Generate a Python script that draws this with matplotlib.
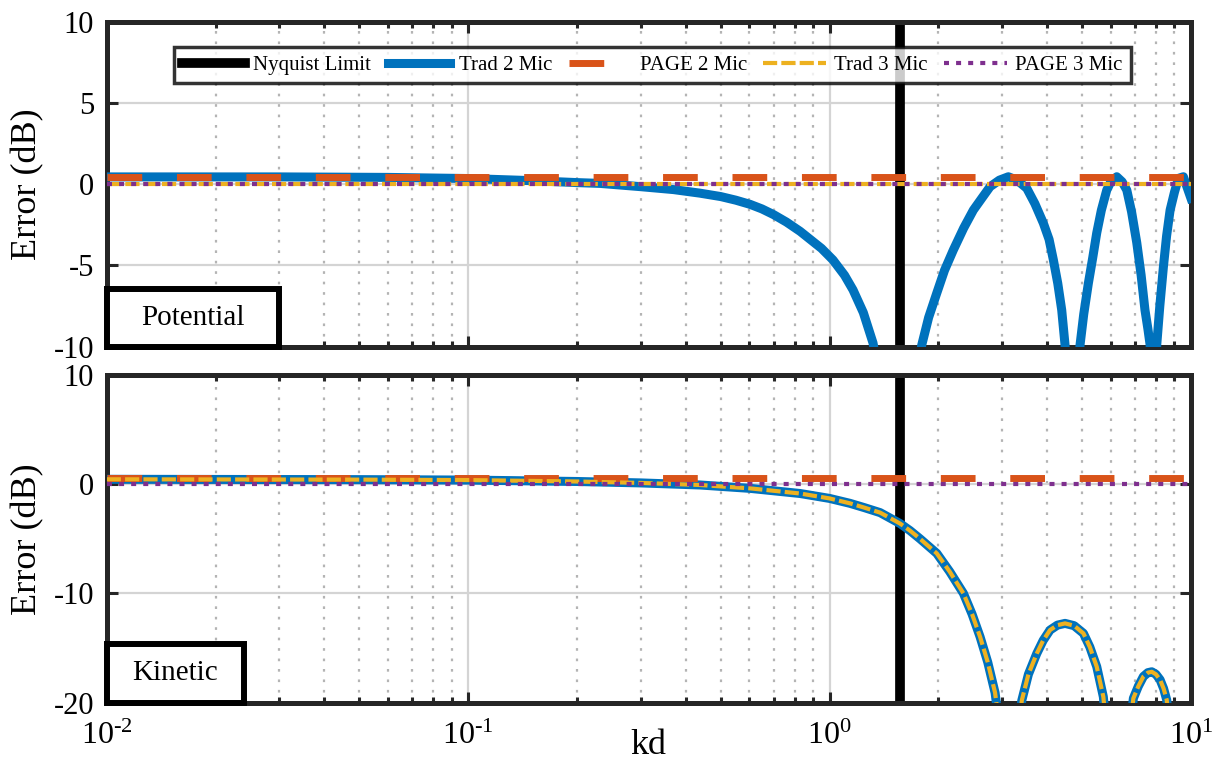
#!/usr/bin/env python3

import matplotlib
matplotlib.use('Agg')  # no display

import math
import matplotlib.pyplot as plt
from matplotlib import ticker
from matplotlib.patches import Rectangle

params = {
    "font.family": "Liberation Serif",
    "mathtext.fontset": "custom",
    "mathtext.rm": "Liberation Serif",
    "mathtext.it": "Liberation Serif:italic",
    "axes.unicode_minus": False,
    "xtick.labelsize": 23,
    "ytick.labelsize": 22,
    "axes.labelsize": 26,
}
plt.rcParams.update(params)

# MATLAB default colours
c_blue = '#0072BD'
c_orange = '#D95319'
c_yellow = '#EDB120'
c_purple = '#7E2F8E'

nyquist_kd = 1.571

# ---- values ----
# potential energy, traditional 2 mic (dB)
kd_pot = [0.01, 0.03, 0.06, 0.1, 0.15, 0.2, 0.232, 0.3, 0.37, 0.438, 0.5, 0.55,
          0.603, 0.65, 0.7, 0.76, 0.829, 0.95, 1.022, 1.1, 1.161, 1.24, 1.319,
          1.45, 1.57, 1.68,
          1.799, 1.88, 1.98, 2.08, 2.2, 2.35, 2.5, 2.65, 2.781, 2.95, 3.124,
          3.3, 3.513, 3.7, 3.905, 4.05, 4.162, 4.28, 4.389, 4.483, 4.6, 4.71,
          4.82, 4.932, 5.05, 5.201, 5.35, 5.486, 5.65, 5.848, 6.0, 6.233,
          6.45, 6.644, 6.85, 7.08, 7.28, 7.46, 7.6, 7.71, 7.78, 7.85, 7.95,
          8.04, 8.2, 8.39, 8.56, 8.756, 9.0, 9.23, 9.53, 10.0]
pot_trad2 = [0.45, 0.45, 0.42, 0.35, 0.22, 0.1, 0.05, -0.15, -0.33, -0.55, -0.76, -0.98,
             -1.24, -1.52, -1.87, -2.33, -2.9, -3.95, -4.66, -5.6, -6.5, -7.9, -9.77,
             -15, -40, -15,
             -9.9, -8.2, -6.7, -5.3, -4.05, -2.7, -1.59, -0.8, -0.15, 0.25, 0.46,
             0.25, -0.25, -1.2, -2.4, -3.4, -4.66, -6.1, -7.74, -9.9, -15, -40,
             -15, -9.9, -8.0, -6.1, -4.5, -3.0, -1.6, -0.36, 0.15, 0.46,
             0.15, -0.36, -1.7, -3.6, -5.6, -7.74, -8.9, -9.9, -15, -40, -15,
             -9.9, -7.5, -5.08, -3.2, -1.59, -0.5, 0.36, 0.46, -0.87]

# kinetic energy, traditional 2 mic and 3 mic (same curve)
kd_kin = [0.01, 0.05, 0.1, 0.2, 0.3, 0.438, 0.603, 0.829, 1.0, 1.139, 1.25,
          1.38, 1.567, 1.67, 1.78, 1.98, 2.15, 2.346, 2.48, 2.609, 2.74, 2.871,
          3.0, 3.14, 3.3, 3.403, 3.55, 3.744, 3.9, 4.074, 4.27, 4.483, 4.75,
          5.04, 5.25, 5.486, 5.722, 5.9, 6.28, 6.7, 6.928, 7.15, 7.386, 7.6,
          7.79, 8.0, 8.214, 8.4, 8.57, 8.8, 9.42, 10.0]
kin_trad = [0.45, 0.42, 0.38, 0.25, 0.12, -0.07, -0.38, -0.85, -1.3, -1.75, -2.15,
            -2.6, -3.6, -4.25, -5.0, -6.33, -8.0, -9.99, -11.9, -13.97, -16.3, -19.1,
            -24, -40, -24, -19.8, -17.4, -15.5, -14.3, -13.35, -12.9, -12.74, -12.95,
            -13.65, -14.9, -16.7, -19.46, -24, -40, -24, -19.6, -18.5, -17.6, -17.25,
            -17.17, -17.4, -17.9, -18.7, -19.76, -24, -40, -30]

# flat curves
kd_flat = [0.01, 10.0]
pot_page2 = [0.45, 0.45]
pot_trad3 = [0.0, 0.0]
pot_page3 = [0.0, 0.0]
kin_page2 = [0.55, 0.55]
kin_page3 = [0.0, 0.0]

labels = ['Nyquist Limit', 'Trad 2 Mic', 'PAGE 2 Mic', 'Trad 3 Mic', 'PAGE 3 Mic']


def log_label(x, pos):
    e = int(round(math.log10(x)))
    return r'$10^{%s}$' % (('\u2010%d' % -e) if e < 0 else '%d' % e)


def style_axes(ax, ylim, yticks):
    ax.set_xscale('log')
    ax.set_xlim(1e-2, 1e1)
    ax.set_ylim(*ylim)
    ax.set_yticks(yticks)
    ax.xaxis.set_major_locator(ticker.LogLocator(base=10, numticks=10))
    ax.xaxis.set_major_formatter(ticker.FuncFormatter(log_label))
    ax.xaxis.set_minor_locator(ticker.LogLocator(base=10, subs=range(2, 10), numticks=10))
    ax.xaxis.set_minor_formatter(ticker.NullFormatter())
    ax.grid(True, which='major', color='#d4d4d4', lw=1.6, ls='-', zorder=0)
    ax.grid(True, which='minor', axis='x', color='#b4b4b4', lw=1.6,
            ls=(0, (1.2, 3.5)), zorder=0)
    ax.set_axisbelow(True)
    ax.tick_params(which='both', direction='in', top=True, right=True, width=2.2,
                   color='#262626')
    ax.tick_params(axis='y', pad=9)
    ax.tick_params(axis='x', pad=14)
    ax.tick_params(which='major', length=8)
    ax.tick_params(which='minor', length=4.5)
    for s in ax.spines.values():
        s.set_linewidth(3.6)
        s.set_color('#262626')
    ax.set_ylabel('Error (dB)')
    ax.yaxis.set_label_coords(-0.058, 0.5)


def tag_box(ax, w, h, text):
    r = Rectangle((0.0, 0.0), w, h, transform=ax.transAxes, facecolor='white',
                  edgecolor='black', lw=4.3, clip_on=False, zorder=20)
    ax.add_patch(r)
    ax.text(w / 2, h / 2, text, transform=ax.transAxes, ha='center', va='center',
            fontsize=21, zorder=21)


fig = plt.figure(figsize=(12.2, 7.6), dpi=100)
ax1 = fig.add_axes([0.0875, 0.5438, 0.8887, 0.4276])
ax2 = fig.add_axes([0.0875, 0.0754, 0.8887, 0.4312])

# --- potential ---
ax1.axvline(nyquist_kd, color='black', lw=7, zorder=2)
ax1.plot(kd_pot, pot_trad2, color=c_blue, lw=6.5, zorder=3, solid_joinstyle='round')
ax1.plot(kd_flat, pot_page2, color=c_orange, lw=5, ls=(0, (5, 5)), zorder=4)
ax1.plot(kd_flat, pot_trad3, color=c_yellow, lw=3, ls=(0, (3.4, 1.0)), zorder=5)
ax1.plot(kd_flat, pot_page3, color=c_purple, lw=3, ls=(0, (1.2, 1.7)), zorder=6)
style_axes(ax1, (-10, 10), [-10, -5, 0, 5, 10])
ax1.tick_params(labelbottom=False)
tag_box(ax1, 0.1586, 0.1775, 'Potential')

leg = ax1.legend(labels, loc='center', bbox_to_anchor=(0.5034, 0.8668), ncol=5,
                 fontsize=15, frameon=True, fancybox=False, handlelength=3.0,
                 handletextpad=0.4, columnspacing=0.8, borderpad=0.4,
                 borderaxespad=0)
leg.get_frame().set_edgecolor('black')
leg.get_frame().set_linewidth(2.5)
leg.set_zorder(30)

# --- kinetic ---
ax2.axvline(nyquist_kd, color='black', lw=7, zorder=2)
ax2.plot(kd_kin, kin_trad, color=c_blue, lw=6.5, zorder=3, solid_joinstyle='round')
ax2.plot(kd_flat, kin_page2, color=c_orange, lw=5, ls=(0, (5, 5)), zorder=4)
ax2.plot(kd_kin, kin_trad, color=c_yellow, lw=3, ls=(0, (3.4, 1.0)), zorder=5)
ax2.plot(kd_flat, kin_page3, color=c_purple, lw=3, ls=(0, (1.2, 1.7)), zorder=6)
style_axes(ax2, (-20, 10), [-20, -10, 0, 10])
ax2.set_xlabel('kd')
ax2.xaxis.set_label_coords(0.5, -0.08)
tag_box(ax2, 0.1266, 0.179, 'Kinetic')

plt.savefig('out.png', dpi=100)
